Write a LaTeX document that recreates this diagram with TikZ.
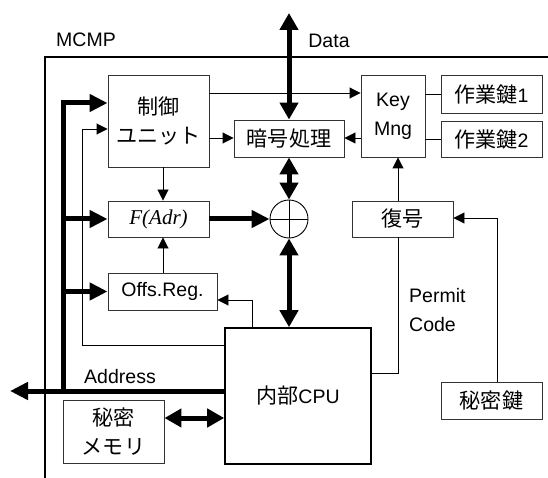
\documentclass[tikz,border=0pt]{standalone}
\usepackage{fontspec}
\setmainfont{Liberation Sans}
\newfontfamily\jp[Scale=1.08]{Noto Sans CJK JP}
\newfontfamily\tms[Scale=1.08]{Liberation Serif}
\usetikzlibrary{arrows.meta,calc}

\begin{document}
\begin{tikzpicture}[x=1pt,y=-1pt,
  txt/.style={font=\fontsize{19.5}{29}\selectfont},
  box/.style={draw=black!80, line width=0.9pt, inner sep=0pt, align=center, txt},
  thinline/.style={line width=0.9pt},
  tarrow/.style={thinline, -{Triangle[length=11pt,width=11pt]}},
  bus/.style={line width=5pt},
  barrow/.style={bus, line join=miter, -{Triangle[length=18pt,width=17pt]}},
  bboth/.style={bus, {Triangle[length=17pt,width=18pt]}-{Triangle[length=17pt,width=18pt]}},
  lbl/.style={inner sep=0pt, txt}]

\useasboundingbox (0,0) rectangle (548,478);

% chip outline
\draw[line width=1.3pt] (45,490) -- (45,57) -- (560,57);
\node[lbl] (mcmp) at (86,40) {MCMP};
\node[lbl] (data) at (329,41) {Data};
\node[lbl] (addrlbl) at (120,377) {Address};

% blocks
\node[box, minimum width=101pt, minimum height=92pt] (ctrl) at (158.5,121) {{\jp 制御}\\{\jp ユニット}};
\node[box, minimum width=110pt, minimum height=37pt] (enc) at (289,138.5) {\jp 暗号処理};
\node[box, minimum width=64pt, minimum height=82pt] (key) at (393,116) {Key\\Mng};
\node[box, minimum width=101pt, minimum height=38pt] (wk1) at (491.5,94) {{\jp 作業鍵}1};
\node[box, minimum width=101pt, minimum height=36pt] (wk2) at (491.5,139) {{\jp 作業鍵}2};
\node[box, minimum width=101pt, minimum height=36pt] (fadr) at (158.5,219) {\tms\itshape F(Adr)};
\node[box, minimum width=109pt, minimum height=37pt] (offs) at (162.5,291.5) {Offs.Reg.};
\node[box, minimum width=101pt, minimum height=36pt] (dec) at (402.5,219) {\jp 復号};
\node[box, minimum width=101pt, minimum height=37pt] (sk) at (491.5,400.5) {\jp 秘密鍵};
\node[box, draw=black, line width=1.6pt, minimum width=146pt, minimum height=136pt] (cpu) at (298,396) {{\jp 内部}CPU};
\node[box, minimum width=101pt, minimum height=63pt] (mem) at (113.5,431.5) {{\jp 秘密}\\{\jp メモリ}};
\node[draw, circle, line width=0.9pt, minimum size=38pt, inner sep=0pt] (xor) at (289,219) {};
\draw[thinline] (xor.north) -- (xor.south) (xor.west) -- (xor.east);
\node[lbl, align=left, anchor=west] (permit) at (409,310) {Permit\\Code};

% routing points
\coordinate (dtop) at (289,13);
\coordinate (r93) at (0,93);
\coordinate (r138) at (0,138);
\coordinate (c163) at (163,0);
\coordinate (c398) at (398,0);
\coordinate (ko) at (252,300);
\coordinate (fa) at (82,345);
\coordinate (fb) at (82,129);
\coordinate (sq) at (497,218);
\coordinate (pc) at (398,373);
\coordinate (bt) at (63,103);
\coordinate (bb) at (63,391);
\coordinate (addr) at (10,391);
\coordinate (mq) at (0,418);

% data bus
\draw[bboth] (dtop) -- (enc.north);

% control and key paths
\draw[tarrow] (ctrl.east |- r93) -- (key.west |- r93);
\draw[tarrow] (ctrl.east |- r138) -- (enc.west |- r138);
\draw[tarrow] (key.west |- r138) -- (enc.east |- r138);
\draw[thinline] (key.east |- wk1.west) -- (wk1.west);
\draw[thinline] (key.east |- wk2.west) -- (wk2.west);
\draw[tarrow] (ctrl.south -| c163) -- (fadr.north -| c163);
\draw[tarrow] (offs.north -| c163) -- (fadr.south -| c163);
\draw[tarrow] (dec.north -| c398) -- (key.south -| c398);
\draw[tarrow] (sk.north -| sq) -- (sq) -- (dec.east |- sq);
\draw[thinline] (dec.south -| pc) -- (pc) -- (cpu.east |- pc);
\draw[tarrow] (cpu.north -| ko) -- (ko) -- (offs.east |- ko);
\draw[tarrow] (cpu.west |- fa) -- (fa) -- (fb) -- (ctrl.west |- fb);

% thick paths
\draw[barrow] (fadr.east) -- (xor.west);
\draw[bboth] (enc.south) -- (xor.north);
\draw[bboth] (xor.south) -- (xor.south |- cpu.north);
\draw[barrow] (bb) -- (bt) -- (ctrl.west |- bt);
\draw[barrow] (fadr.west -| bt) -- (fadr.west);
\draw[barrow] (offs.west -| bt) -- (offs.west);
\draw[barrow] (cpu.west |- bb) -- (addr);
\draw[bboth] (mem.east |- mq) -- (cpu.west |- mq);
\end{tikzpicture}
\end{document}
